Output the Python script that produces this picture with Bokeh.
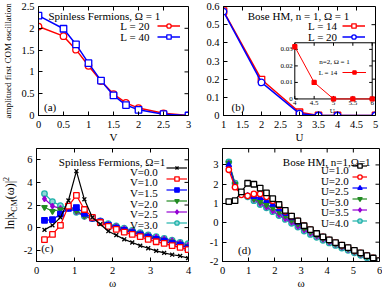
import math
from bokeh.plotting import figure
from bokeh.models import Range1d, FixedTicker, Legend, LegendItem, Label, Div
from bokeh.layouts import row, column
from bokeh.embed import file_html
from bokeh.resources import INLINE
from bokeh.core.properties import value

FONT = "Liberation Serif"

# ---------------- data: panel (a) ----------------
a_V = [0, 0.5, 0.75, 1.0, 1.25, 1.5, 1.75, 2.0, 2.5, 3.0]
a_L20 = [2.04, 1.82, 1.51, 1.14, 0.79, 0.49, 0.29, 0.17, 0.05, 0.0]
a_L40 = [2.29, 1.99, 1.63, 1.20, 0.80, 0.46, 0.24, 0.13, 0.03, 0.0]
a_xticks = [0, 0.5, 1, 1.5, 2, 2.5, 3]
a_xlabels = ["0", "0.5", "1", "1.5", "2", "2.5", "3"]
a_yticks = [0, 0.5, 1, 1.5, 2, 2.5]
a_ylabels = ["0", "0.5", "1", "1.5", "2", "2.5"]
a_range_x = (0, 3)
a_range_y = (0, 2.5)

# ---------------- data: panel (b) ----------------
b_U = [1, 2, 3, 3.5, 4, 5]
b_L14 = [0.575, 0.198, 0.018, 0.0, 0.0, 0.0]
b_L20 = [0.572, 0.182, 0.010, 0.0, 0.0, 0.0]
b_xticks = [1, 1.5, 2, 2.5, 3, 3.5, 4, 4.5, 5]
b_xlabels = ["1", "1.5", "2", "2.5", "3", "3.5", "4", "4.5", "5"]
b_yticks = [0, 0.1, 0.2, 0.3, 0.4, 0.5, 0.6]
b_ylabels = ["0", "0.1", "0.2", "0.3", "0.4", "0.5", "0.6"]
b_range_x = (1, 5)
b_range_y = (0, 0.6)

# inset of (b)
i_U = [4, 4.5, 5, 5.5, 6]
i_L14 = [0.0316, 0.0100, 0.0, 0.0, 0.0]
i_xticks = [4, 4.5, 5, 5.5, 6]
i_xlabels = ["4", "4.5", "5", "5.5", "6"]
i_yticks = [0, 0.01, 0.02, 0.03]
i_ylabels = ["0", "0.01", "0.02", "0.03"]
i_range_x = (4, 6)
i_range_y = (0, 0.034)

# ---------------- data: panel (c) ----------------
c_omega = [0.21, 0.42, 0.63, 0.84, 1.05, 1.26, 1.47, 1.68, 1.89, 2.10,
           2.31, 2.52, 2.73, 2.94, 3.15, 3.36, 3.57, 3.78, 3.99]
c_V00 = [-0.2, 0.2, 0.9, 2.4, 5.0, 2.5, 0.9, 0.3, -0.32, -0.67,
         -1.04, -1.32, -1.6, -1.83, -2.06, -2.23, -2.4, -2.51, -2.7]
c_V10 = [-1.07, -0.6, 0.2, 1.9, 2.85, 1.6, 0.9, 0.45, 0.1, -0.15,
         -0.4, -0.6, -0.8, -1.05, -1.25, -1.4, -1.6, -1.75, -1.95]
c_V15 = [0.64, 0.7, 1.2, 1.7, 1.77, 1.26, 0.85, 0.5, 0.2, -0.05,
         -0.25, -0.45, -0.65, -0.85, -1.05, -1.2, -1.4, -1.55, -1.8]
c_V20 = [1.8, 1.45, 1.6, 1.8, 1.5, 1.05, 0.8, 0.55, 0.25, 0.05,
         -0.15, -0.35, -0.55, -0.75, -0.95, -1.1, -1.25, -1.45, -1.65]
c_V25 = [2.55, 1.9, 1.7, 1.7, 1.4, 1.0, 0.8, 0.6, 0.3, 0.1,
         -0.1, -0.3, -0.5, -0.7, -0.85, -1.0, -1.15, -1.35, -1.55]
c_V30 = [3.0, 2.3, 1.95, 1.75, 1.35, 1.0, 0.8, 0.6, 0.35, 0.15,
         -0.05, -0.25, -0.45, -0.65, -0.8, -0.95, -1.1, -1.3, -1.43]
c_names = ["V=0.0", "V=1.0", "V=1.5", "V=2.0", "V=2.5", "V=3.0"]
c_xticks = [0, 1, 2, 3, 4]
c_xlabels = ["0", "1", "2", "3", "4"]
c_yticks = [-2, 0, 2, 4, 6]
c_ylabels = ["-2", "0", "2", "4", "6"]
c_range_x = (0, 4)
c_range_y = (-3, 7)

# ---------------- data: panel (d) ----------------
d_omega = [0.24, 0.48, 0.72, 0.96, 1.20, 1.44, 1.68, 1.92, 2.16, 2.40,
           2.64, 2.88, 3.12, 3.36, 3.60, 3.84, 4.08, 4.32, 4.56, 4.80,
           5.04, 5.28, 5.52, 5.76, 6.00]
d_U10 = [1.1, 1.15, 1.6, 2.05, 2.0, 1.8, 1.55, 1.25, 0.95, 0.65,
         0.35, 0.1, -0.15, -0.35, -0.55, -0.72, -0.88, -1.02, -1.15, -1.28,
         -1.42, -1.55, -1.7, -1.82, -1.95]
d_U20 = [2.75, 1.85, 1.45, 1.4, 1.5, 1.5, 1.35, 1.15, 0.9, 0.6,
         0.35, 0.1, -0.15, -0.35, -0.55, -0.72, -0.88, -1.02, -1.15, -1.28,
         -1.42, -1.55, -1.7, -1.82, -1.95]
d_U25 = [3.0, 1.9, 1.45, 1.4, 1.35, 1.3, 1.15, 0.95, 0.72, 0.48,
         0.25, 0.02, -0.2, -0.4, -0.58, -0.75, -0.9, -1.05, -1.18, -1.3,
         -1.45, -1.58, -1.72, -1.85, -1.98]
d_U30 = [3.1, 2.0, 1.5, 1.4, 1.25, 1.1, 0.95, 0.78, 0.58, 0.38,
         0.15, -0.05, -0.27, -0.45, -0.62, -0.78, -0.93, -1.08, -1.2, -1.33,
         -1.47, -1.6, -1.74, -1.87, -2.0]
d_U35 = [3.1, 2.0, 1.5, 1.38, 1.2, 1.0, 0.82, 0.62, 0.42, 0.22,
         0.02, -0.18, -0.37, -0.55, -0.7, -0.85, -1.0, -1.13, -1.26, -1.39,
         -1.52, -1.65, -1.78, -1.9, -2.02]
d_U40 = [3.15, 2.05, 1.5, 1.35, 1.15, 0.95, 0.78, 0.58, 0.38, 0.18,
         -0.02, -0.22, -0.42, -0.6, -0.75, -0.9, -1.04, -1.17, -1.3, -1.42,
         -1.55, -1.68, -1.8, -1.92, -2.03]
d_names = ["U=1.0", "U=2.0", "U=2.5", "U=3.0", "U=3.5", "U=4.0"]
d_xticks = [0, 1, 2, 3, 4, 5, 6]
d_xlabels = ["0", "1", "2", "3", "4", "5", "6"]
d_yticks = [-2, -1, 0, 1, 2, 3]
d_ylabels = ["-2", "-1", "0", "1", "2", "3"]
d_range_x = (0, 6)
d_range_y = (-2, 3.85)

# ---------------- geometry (page pixels) ----------------
YLAB_W = 20
GEO = {
    "a": dict(x0=0, y0=0, W=192, H=145, l=33, r=4, t=6, b=29, xr=a_range_x, yr=a_range_y),
    "b": dict(x0=192, y0=0, W=190, H=145, l=31, r=7, t=6, b=29, xr=b_range_x, yr=b_range_y),
    "c": dict(x0=YLAB_W, y0=145, W=192 - YLAB_W, H=146, l=33 - YLAB_W, r=4, t=3, b=25,
              xr=c_range_x, yr=c_range_y),
    "d": dict(x0=192, y0=145, W=190, H=146, l=30, r=3, t=2, b=25, xr=d_range_x, yr=d_range_y),
}

RED = "#ff0000"
BLUE = "#0000ff"
GREEN = "#228b22"
PURPLE = "#9400d3"
CYAN = "#20b2aa"
CYAN_FILL = "#8fd8d8"


def frame_box(g):
    fl = g["x0"] + g["l"]
    ft = g["y0"] + g["t"]
    fw = g["W"] - g["l"] - g["r"]
    fh = g["H"] - g["t"] - g["b"]
    return fl, ft, fw, fh


def to_data(key, X, Y):
    g = GEO[key]
    fl, ft, fw, fh = frame_box(g)
    x0, x1 = g["xr"]
    y0, y1 = g["yr"]
    return x0 + (X - fl) / fw * (x1 - x0), y1 - (Y - ft) / fh * (y1 - y0)


def make_fig(key, xt, xl, yt, yl, xlabel=None, ylabel=None, xlab_fs="11px"):
    g = GEO[key]
    p = figure(width=g["W"], height=g["H"],
               x_range=Range1d(*g["xr"]), y_range=Range1d(*g["yr"]),
               output_backend="svg", toolbar_location=None,
               min_border_left=g["l"], min_border_right=g["r"],
               min_border_top=g["t"], min_border_bottom=g["b"])
    p.xgrid.visible = False
    p.ygrid.visible = False
    p.outline_line_color = "black"
    p.outline_line_width = 1
    p.outline_line_alpha = 1
    p.background_fill_color = "white"
    p.border_fill_color = "white"
    p.xaxis.ticker = FixedTicker(ticks=xt)
    p.yaxis.ticker = FixedTicker(ticks=yt)
    p.xaxis.major_label_overrides = {t: s for t, s in zip(xt, xl)}
    p.yaxis.major_label_overrides = {t: s for t, s in zip(yt, yl)}
    for ax in list(p.xaxis) + list(p.yaxis):
        ax.major_tick_in = 4
        ax.major_tick_out = 0
        ax.minor_tick_in = 0
        ax.minor_tick_out = 0
        ax.axis_line_color = "black"
        ax.major_tick_line_color = "black"
        ax.major_label_text_font = FONT
        ax.major_label_text_font_size = "10.5px"
        ax.major_label_text_color = "black"
        ax.axis_label_text_font = FONT
        ax.axis_label_text_font_style = "normal"
        ax.axis_label_text_color = "black"
    p.yaxis.major_label_standoff = 4
    if xlabel:
        p.xaxis.axis_label = xlabel
        p.xaxis.axis_label_text_font_size = xlab_fs
        p.xaxis.axis_label_standoff = 0
    if ylabel:
        p.yaxis.axis_label = ylabel
        p.yaxis.axis_label_text_font_size = "9px"
        p.yaxis.axis_label_standoff = 5
    # mirrored (gnuplot-style) ticks on the top and right edges
    x0, x1 = g["xr"]
    y0, y1 = g["yr"]
    p.ray(x=xt, y=[y1] * len(xt), length=4, length_units="screen", angle=-math.pi / 2,
          line_color="black", line_width=1)
    p.ray(x=[x1] * len(yt), y=yt, length=4, length_units="screen", angle=math.pi,
          line_color="black", line_width=1)
    return p


def series(p, x, y, color, marker, fill, size=6, lw=1.5, **kw):
    lr = p.line(x, y, line_color=color, line_width=lw, **kw)
    sr = p.scatter(x, y, marker=marker, size=size, line_color=color,
                   fill_color=fill if fill else color, line_width=1.3, **kw)
    return [lr, sr]


def add_text(p, key, X, Y, text, fs="10.5px", align="center"):
    x, y = to_data(key, X, Y)
    p.add_layout(Label(x=x, y=y, text=text, text_font=FONT, text_font_size=fs,
                       text_align=align, text_baseline="middle", text_color="black"))


def add_key(p, key, names, rends, text_right, glyph_left, glyph_w, first_center, row_h, fs):
    """gnuplot-style key: right-aligned text, then the sample to its right."""
    g = GEO[key]
    fl, ft, fw, fh = frame_box(g)
    n = len(names)
    top_off = first_center - row_h / 2 - ft
    leg = Legend(items=[LegendItem(label="", renderers=r) for r in rends],
                 location=(glyph_left - fl, fh - top_off - n * row_h),
                 orientation="vertical", padding=0, margin=0, spacing=0,
                 glyph_width=glyph_w, glyph_height=row_h,
                 label_height=row_h, label_width=0, label_standoff=0,
                 label_text_font_size="1px",
                 border_line_color=None, background_fill_alpha=0)
    p.add_layout(leg)
    for i, nm in enumerate(names):
        add_text(p, key, text_right, first_center + i * row_h, nm, fs=fs, align="right")


# ================= panel (a) =================
pa = make_fig("a", a_xticks, a_xlabels, a_yticks, a_ylabels,
              xlabel="V", ylabel="amplitued first COM oscillation")
ra20 = series(pa, a_V, a_L20, RED, "circle", "white", size=6.5)
ra40 = series(pa, a_V, a_L40, BLUE, "square", "white", size=6.5)
add_text(pa, "a", 101.0, 15.7, "Spinless Fermions, \u03a9 = 1", fs="11px")
add_key(pa, "a", ["L = 20", "L = 40"], [ra20, ra40], text_right=148.0,
        glyph_left=152, glyph_w=23, first_center=26.0, row_h=11, fs="11px")
add_text(pa, "a", 45.0, 107.0, "(a)", fs="11px")

# ================= panel (b) =================
pb = make_fig("b", b_xticks, b_xlabels, b_yticks, b_ylabels, xlabel="U")
rb14 = series(pb, b_U, b_L14, RED, "square", "white", size=6.5)
rb20 = series(pb, b_U, b_L20, BLUE, "circle", "white", size=6.5)
add_text(pb, "b", 298.0, 15.7, "Bose HM, n = 1, \u03a9 = 1", fs="11px")
add_key(pb, "b", ["L = 14", "L = 20"], [rb14, rb20], text_right=337.0,
        glyph_left=342, glyph_w=23, first_center=26.0, row_h=11, fs="11px")
add_text(pb, "b", 237.5, 107.0, "(b)", fs="11px")

# ---- inset in (b), drawn with its own ranges ----
INS_L, INS_R = 294.3, 371.7     # page x of inset x-range ends
INS_B, INS_T = 99.3, 42.6       # page y of inset y-range ends
fl, ft, fw, fh = frame_box(GEO["b"])
kx = (INS_R - INS_L) / (i_range_x[1] - i_range_x[0])
ky = (INS_B - INS_T) / (i_range_y[1] - i_range_y[0])
pb.extra_x_ranges = {"ix": Range1d(i_range_x[0] - (INS_L - fl) / kx,
                                   i_range_x[0] + (fl + fw - INS_L) / kx)}
pb.extra_y_ranges = {"iy": Range1d(i_range_y[0] - (ft + fh - INS_B) / ky,
                                   i_range_y[0] + (INS_B - ft) / ky)}
IR = dict(x_range_name="ix", y_range_name="iy")
pb.quad(left=[i_range_x[0]], right=[i_range_x[1]], bottom=[i_range_y[0]], top=[i_range_y[1]],
        fill_color="white", line_color="black", line_width=1, **IR)
n_y = len(i_yticks)
n_x = len(i_xticks)
pb.ray(x=[i_range_x[0]] * n_y, y=i_yticks, length=3, length_units="screen", angle=0,
       line_color="black", line_width=1, **IR)
pb.ray(x=[i_range_x[1]] * n_y, y=i_yticks, length=3, length_units="screen", angle=math.pi,
       line_color="black", line_width=1, **IR)
pb.ray(x=i_xticks, y=[i_range_y[0]] * n_x, length=3, length_units="screen", angle=math.pi / 2,
       line_color="black", line_width=1, **IR)
pb.ray(x=i_xticks, y=[i_range_y[1]] * n_x, length=3, length_units="screen", angle=-math.pi / 2,
       line_color="black", line_width=1, **IR)
pb.text(x=[i_range_x[0]] * n_y, y=i_yticks, text=i_ylabels, x_offset=-2,
        text_align="right", text_baseline="middle", text_font=value(FONT),
        text_font_size="7px", text_color="black", **IR)
pb.text(x=i_xticks, y=[i_range_y[0]] * n_x, text=i_xlabels, y_offset=2,
        text_align="center", text_baseline="top", text_font=value(FONT),
        text_font_size="7px", text_color="black", **IR)
pb.text(x=[4.97], y=[i_range_y[0]], text=["U"], y_offset=8,
        text_align="center", text_baseline="top", text_font=value(FONT),
        text_font_size="7px", text_color="black", **IR)
ri14 = series(pb, i_U, i_L14, RED, "square", RED, size=4, lw=1, **IR)
add_text(pb, "b", 334.0, 62.0, "n=2, \u03a9 = 1", fs="7px")
add_key(pb, "b", ["L = 14"], [ri14], text_right=337.0,
        glyph_left=342, glyph_w=24, first_center=73.0, row_h=8, fs="7px")

# ================= panel (c) =================
pc = make_fig("c", c_xticks, c_xlabels, c_yticks, c_ylabels, xlabel="\u03c9")
c_styles = [(c_V00, "black", "x", None), (c_V10, RED, "square", "white"),
            (c_V15, BLUE, "square", BLUE), (c_V20, GREEN, "inverted_triangle", GREEN),
            (c_V25, PURPLE, "diamond", PURPLE), (c_V30, CYAN, "circle", CYAN_FILL)]
c_rend = [None] * len(c_styles)
for i in reversed(range(len(c_styles))):
    vals, col, mk, fill = c_styles[i]
    c_rend[i] = series(pc, c_omega, vals, col, mk, fill, size=5.5, lw=1.2)
add_text(pc, "c", 110.0, 162.3, "Spinless Fermions, \u03a9=1", fs="11px")
add_key(pc, "c", c_names, c_rend, text_right=156.7, glyph_left=162.7, glyph_w=21,
        first_center=172.5, row_h=11, fs="11px")
add_text(pc, "c", 44.0, 252.0, "(c)", fs="11px")

ylab_c = Div(text=('<div style="width:%dpx;height:146px;display:flex;align-items:center;'
                   'justify-content:center;">'
                   '<span style="display:inline-block;position:relative;top:-15px;left:1px;'
                   'transform:rotate(-90deg);white-space:nowrap;'
                   'font-family:\'Liberation Serif\';font-size:12px;line-height:12px;color:black;">'
                   'ln|x<sub style="font-size:8px">CM</sub>(\u03c9)|<sup style="font-size:8px">2</sup>'
                   '</span></div>') % YLAB_W,
             width=YLAB_W, height=146, margin=(0, 0, 0, 0))

# ================= panel (d) =================
pd = make_fig("d", d_xticks, d_xlabels, d_yticks, d_ylabels, xlabel="\u03c9")
d_styles = [(d_U10, "black", "square", "white"), (d_U20, RED, "circle", "white"),
            (d_U25, BLUE, "triangle", BLUE), (d_U30, GREEN, "inverted_triangle", GREEN),
            (d_U35, PURPLE, "diamond", PURPLE), (d_U40, CYAN, "circle", CYAN_FILL)]
d_rend = [None] * len(d_styles)
for i in reversed(range(len(d_styles))):
    vals, col, mk, fill = d_styles[i]
    d_rend[i] = series(pd, d_omega, vals, col, mk, fill, size=5.5, lw=1.2)
add_text(pd, "d", 326.2, 160.7, "Bose HM, n=1,\u03a9=1", fs="11px")
add_key(pd, "d", d_names, d_rend, text_right=348.3, glyph_left=351.7, glyph_w=15,
        first_center=170.0, row_h=11, fs="11px")
add_text(pd, "d", 244.0, 254.0, "(d)", fs="11px")

layout = column(row(pa, pb), row(ylab_c, pc, pd))
open("out.html", "w").write(file_html(layout, INLINE))
